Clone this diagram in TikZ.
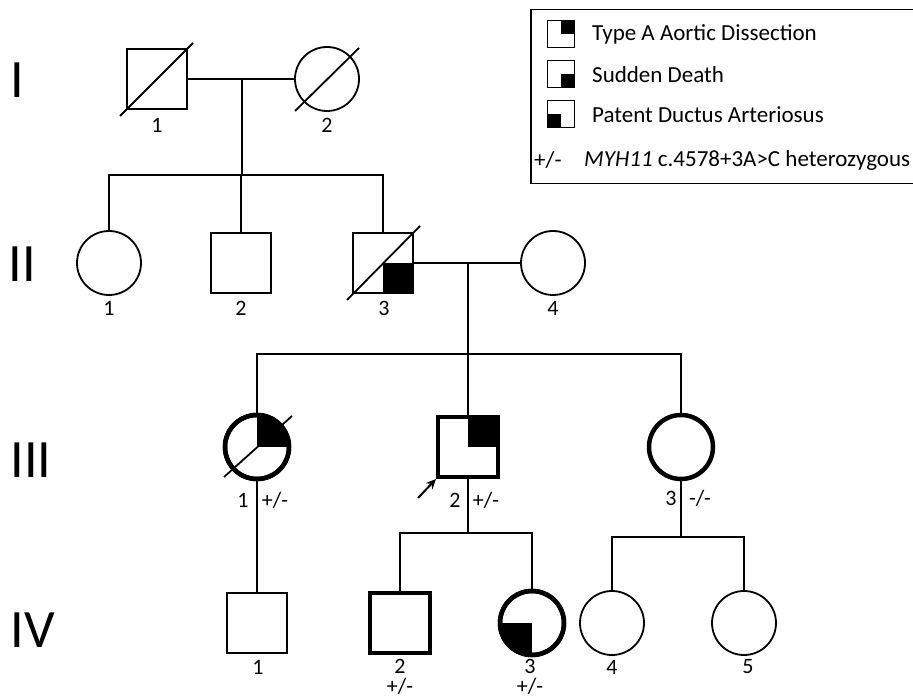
\documentclass[tikz,border=0pt]{standalone}
\usepackage{fontspec}
\setmainfont{Carlito}
\usetikzlibrary{arrows.meta,calc}
\tikzset{
  ped/.style={draw, line width=1.8pt, inner sep=0pt, outer sep=0pt},
  male/.style={ped, rectangle, minimum size=60pt},
  female/.style={ped, circle, minimum size=64pt},
  tested/.style={line width=4.5pt},
  conn/.style={line width=1.8pt},
  slash/.style={line width=1.8pt},
  num/.style={font=\fontsize{22}{20}\selectfont, inner sep=0pt},
  gen/.style={font=\fontsize{54}{54}\selectfont, inner sep=0pt},
  legtxt/.style={font=\fontsize{23}{23}\selectfont, anchor=west, inner sep=0pt},
  legsym/.style={draw, line width=1.5pt, rectangle, minimum size=27pt, inner sep=0pt, outer sep=0pt},
}
\begin{document}
\begin{tikzpicture}[x=1pt,y=-1pt]
\useasboundingbox (0,0) rectangle (913,700);

% generation labels
\node[gen] (gI) at (17,80) {I};
\node[gen] (gII) at (22,264) {II};
\node[gen] (gIII) at (31,460) {III};
\node[gen] (gIV) at (33,630) {IV};

% Generation I
\node[male] (I1) at (157,79) {};
\node[female] (I2) at (327,79) {};
\draw[slash] ([shift={(-37,37)}]I1.center) -- ([shift={(36,-36)}]I1.center);
\draw[slash] ([shift={(-32,32)}]I2.center) -- ([shift={(32,-31)}]I2.center);
\node[num] (nI1) at (157,125) {1};
\node[num] (nI2) at (327,125) {2};

% Generation II
\node[female] (II1) at (109,263) {};
\node[male] (II2) at (241,263) {};
\node[male] (II3) at (383,263) {};
\node[female] (II4) at (553,263) {};
\fill (II3.center) rectangle (II3.south east);
\draw[line width=1.8pt] (II3.south west) rectangle (II3.north east);
\draw[slash] ([shift={(-36,37)}]II3.center) -- ([shift={(37,-37)}]II3.center);
\node[num] (nII1) at (109,308) {1};
\node[num] (nII2) at (241,308) {2};
\node[num] (nII3) at (384,308) {3};
\node[num] (nII4) at (553,308) {4};

% Generation III
\node[female, tested] (III1) at (257,447) {};
\node[male, tested] (III2) at (468,447) {};
\node[female, tested] (III3) at (681,447) {};
\begin{scope}
  \clip (III1.center) circle (32);
  \fill (III1.center) rectangle ++(40,-40);
\end{scope}
\draw[line width=4.5pt] (III1.center) circle (32);
\draw[slash] ([shift={(-33,30)}]III1.center) -- ([shift={(35,-31)}]III1.center);
\fill (III2.center) rectangle (III2.north east);
\draw[line width=4.5pt] (III2.south west) rectangle (III2.north east);
\coordinate (arrtail) at (418,498);
\draw[line width=2pt, -{Stealth[length=10pt,width=9pt]}] (arrtail) -- ([shift={(-2,2)}]III2.south west);
\node[num] (nIII1) at (243,500) {1};
\node[num] (gtIII1) at (275,500) {+/-};
\node[num] (nIII2) at (455,500) {2};
\node[num] (gtIII2) at (486,500) {+/-};
\node[num] (nIII3) at (671,498) {3};
\node[num] (gtIII3) at (700,498) {-/-};

% Generation IV
\node[male] (IV1) at (257,623) {};
\node[male, tested] (IV2) at (400,623) {};
\node[female, tested] (IV3) at (532,623) {};
\node[female] (IV4) at (612,623) {};
\node[female] (IV5) at (744,623) {};
\begin{scope}
  \clip (IV3.center) circle (32);
  \fill (IV3.center) rectangle ++(-40,40);
\end{scope}
\draw[line width=4.5pt] (IV3.center) circle (32);
\node[num] (nIV1) at (258,667) {1};
\node[num, align=center, anchor=north] (nIV2) at (400,659) {2\\+/-};
\node[num, align=center, anchor=north] (nIV3) at (530,659) {3\\+/-};
\node[num] (nIV4) at (612,667) {4};
\node[num] (nIV5) at (748,667) {5};

% connectors
\coordinate (m1) at (242,79);
\coordinate (s1) at (242,175);
\draw[conn] (I1.east) -- (I2.west);
\draw[conn] (m1) -- (s1);
\draw[conn] (II1.north) -- (II1.north |- s1) -- (II3.north |- s1) -- (II3.north);
\draw[conn] (II2.north) -- (II2.north |- s1);

\coordinate (m2) at (468,263);
\coordinate (s2) at (468,354);
\draw[conn] (II3.east) -- (II4.west);
\draw[conn] (m2) -- (s2);
\draw[conn] (III1.north) -- (III1.north |- s2) -- (III3.north |- s2) -- (III3.north);
\draw[conn] (III2.north) -- (III2.north |- s2);

\draw[conn] (III1.south) -- (IV1.north);

\coordinate (s3) at (468,533);
\draw[conn] (III2.south) -- (s3);
\draw[conn] (IV2.north) -- (IV2.north |- s3) -- (IV3.north |- s3) -- (IV3.north);

\coordinate (s4) at (681,537);
\draw[conn] (III3.south) -- (s4);
\draw[conn] (IV4.north) -- (IV4.north |- s4) -- (IV5.north |- s4) -- (IV5.north);

% legend
\node[draw, line width=1.5pt, anchor=north west, minimum width=420pt, minimum height=174pt, inner sep=0pt] (legend) at (530,9) {};
\node[legsym] (L1) at (561,34) {};
\node[legsym] (L2) at (561,74) {};
\node[legsym] (L3) at (561,114) {};
\fill (L1.center) rectangle (L1.north east);
\fill (L2.center) rectangle (L2.south east);
\fill (L3.center) rectangle (L3.south west);
\draw[line width=1.5pt] (L1.south west) rectangle (L1.north east);
\draw[line width=1.5pt] (L2.south west) rectangle (L2.north east);
\draw[line width=1.5pt] (L3.south west) rectangle (L3.north east);
\node[legtxt] (t1) at (592,34) {Type A Aortic Dissection};
\node[legtxt] (t2) at (592,75) {Sudden Death};
\node[legtxt] (t3) at (592,115) {Patent Ductus Arteriosus};
\node[legtxt] (t4a) at (534,160) {+/-};
\node[legtxt] (t4) at (584,160) {\textit{MYH11} c.4578+3A>C heterozygous};
\end{tikzpicture}
\end{document}
